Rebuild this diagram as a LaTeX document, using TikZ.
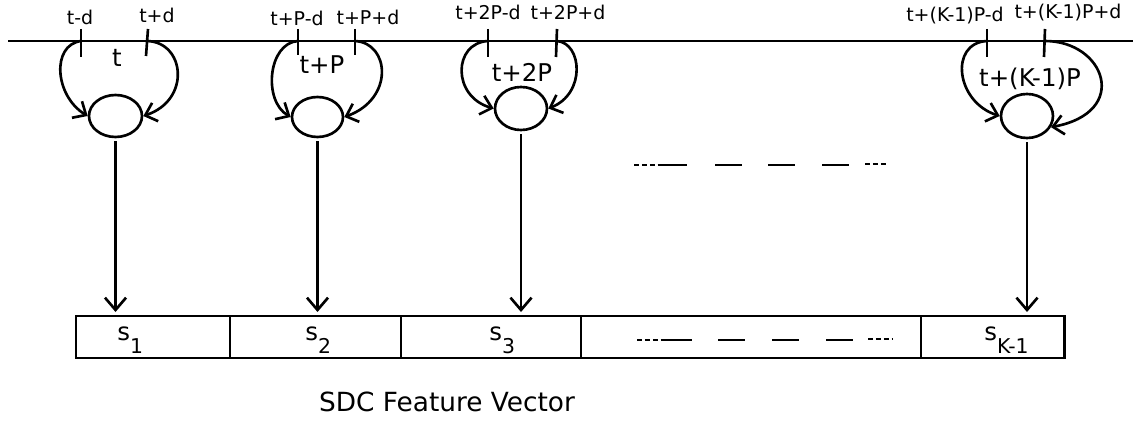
\documentclass[tikz,border=0pt]{standalone}
\usepackage{fontspec}
\setmainfont{DejaVu Sans}
\usetikzlibrary{arrows.meta, shapes.geometric, positioning}

\tikzset{
  linea/.style={line width=1.5pt},
  bucle/.style={line width=1.5pt, -{Straight Barb[length=6pt, width=11pt]}},
  flecha/.style={line width=1.5pt, -{Straight Barb[length=7pt, width=12pt]}},
  nodo/.style={draw, ellipse, line width=1.5pt, inner sep=0pt},
  celda/.style={draw, rectangle, line width=1.5pt, minimum height=0.84cm, inner sep=0pt, outer sep=0pt},
  etq/.style={font=\fontsize{10.8}{12}\selectfont, inner sep=0pt},
  tiempo/.style={font=\fontsize{13.9}{16}\selectfont, inner sep=0pt},
  puntos/.style={line width=1.5pt, dash pattern=on 2.8pt off 1.7pt},
}
\newcommand{\sidx}[1]{s\raisebox{-7.9pt}{\fontsize{11.6}{13}\selectfont #1}}

\begin{document}
\begin{tikzpicture}[x=0.02cm, y=-0.02cm]
\useasboundingbox (0,0) rectangle (1133,422);
% eje de tiempo
\draw[line width=1.6pt] (8,41) -- (1133,41);
% Grupo 1: t
\coordinate (a1) at (81,41);
\coordinate (b1) at (147,41);
\draw[linea] (81,29) -- (81,57);
\draw[linea] (148,29) -- (146,56);
\node[etq] (ta1) at (80,17) {t-d};
\node[etq] (tb1) at (157,15) {t+d};
\node[tiempo] (l1) at (117,58) {t};
\node[nodo, minimum width=1.06cm, minimum height=0.84cm] (c1) at (115.5,116) {};
\draw[bucle] (a1) .. controls +(-30,4) and +(-33,-20) .. (c1.west);
\draw[bucle] (b1) .. controls +(38,1) and +(48,-16) .. (c1.east);
% Grupo 2: t+P
\coordinate (a2) at (298,41);
\coordinate (b2) at (355,41);
\draw[linea] (298,29) -- (298,55);
\draw[linea] (355,29) -- (355,55);
\node[etq] (ta2) at (297,18) {t+P-d};
\node[etq] (tb2) at (368,17) {t+P+d};
\node[tiempo] (l2) at (322,65) {t+P};
\node[nodo, minimum width=1.02cm, minimum height=0.8cm] (c2) at (317.5,117) {};
\draw[bucle] (a2) .. controls +(-30,2) and +(-28,-16) .. (c2.west);
\draw[bucle] (b2) .. controls +(35,2) and +(50,-18) .. (c2.east);
% Grupo 3: t+2P
\coordinate (a3) at (488,41);
\coordinate (b3) at (557,41);
\draw[linea] (488,29) -- (488,57);
\draw[linea] (557,29) -- (556,57);
\node[etq] (ta3) at (488,12) {t+2P-d};
\node[etq] (tb3) at (568,12) {t+2P+d};
\node[tiempo] (l3) at (522,72) {t+2P};
\node[nodo, minimum width=1.04cm, minimum height=0.86cm] (c3) at (521,108.5) {};
\draw[bucle] (a3) .. controls +(-35,2) and +(-42,-12) .. (c3.west);
\draw[bucle] (b3) .. controls +(25,2) and +(38,-15) .. (c3.east);
% Grupo 4: t+(K-1)P
\coordinate (a4) at (987,41);
\coordinate (b4) at (1045,41);
\draw[linea] (987,29) -- (987,57);
\draw[linea] (1045,29) -- (1044,57);
\node[etq] (ta4) at (955,16) {t+(K-1)P-d};
\node[etq] (tb4) at (1068,13) {t+(K-1)P+d};
\node[tiempo] (l4) at (1030,79) {t+(K-1)P};
\node[nodo, minimum width=1.04cm, minimum height=0.88cm] (c4) at (1027,116) {};
\draw[bucle] (a4) .. controls +(-38,2) and +(-44,-14) .. (c4.west);
\draw[bucle] (b4) .. controls +(60,0) and +(80,-15) .. (c4.-25);
% puntos suspensivos
\draw[puntos] (634,165) -- (658,165);
\draw[puntos] (865,164) -- (888,164);
\foreach \x/\w in {658/29, 715/27, 768/27, 822/27} {
    \draw[linea] (\x,165) -- ++(\w,0);
}
% vector de caracteristicas
\node[celda, minimum width=3.08cm, anchor=north west] (celda1) at (76,316) {};
\node[celda, minimum width=3.42cm, right=0pt of celda1] (celda2) {};
\node[celda, minimum width=3.6cm, right=0pt of celda2] (celda3) {};
\node[celda, minimum width=6.8cm, right=0pt of celda3] (celda4) {};
\node[celda, minimum width=2.88cm, right=0pt of celda4] (celda5) {};
\node[tiempo, anchor=base west] (s1) at (117,340) {\sidx{1}};
\node[tiempo, anchor=base west] (s2) at (305,340) {\sidx{2}};
\node[tiempo, anchor=base west] (s3) at (489,340) {\sidx{3}};
\node[tiempo, anchor=base west] (s5) at (984,340) {\sidx{K-1}};
\draw[puntos] (637,340) -- (663,340);
\draw[puntos] (868,339) -- (892,339);
\foreach \x/\w in {663/29, 718/27, 772/27, 826/27} {
    \draw[linea] (\x,340) -- ++(\w,0);
}
% flechas
\foreach \i in {1,...,4} {
    \draw[flecha, shorten <=0.06cm, shorten >=0.08cm] (c\i.south) -- (c\i.south |- celda1.north);
}
\node[font=\fontsize{15}{18}\selectfont] (titulo) at (447,402) {SDC Feature Vector};
\end{tikzpicture}
\end{document}
